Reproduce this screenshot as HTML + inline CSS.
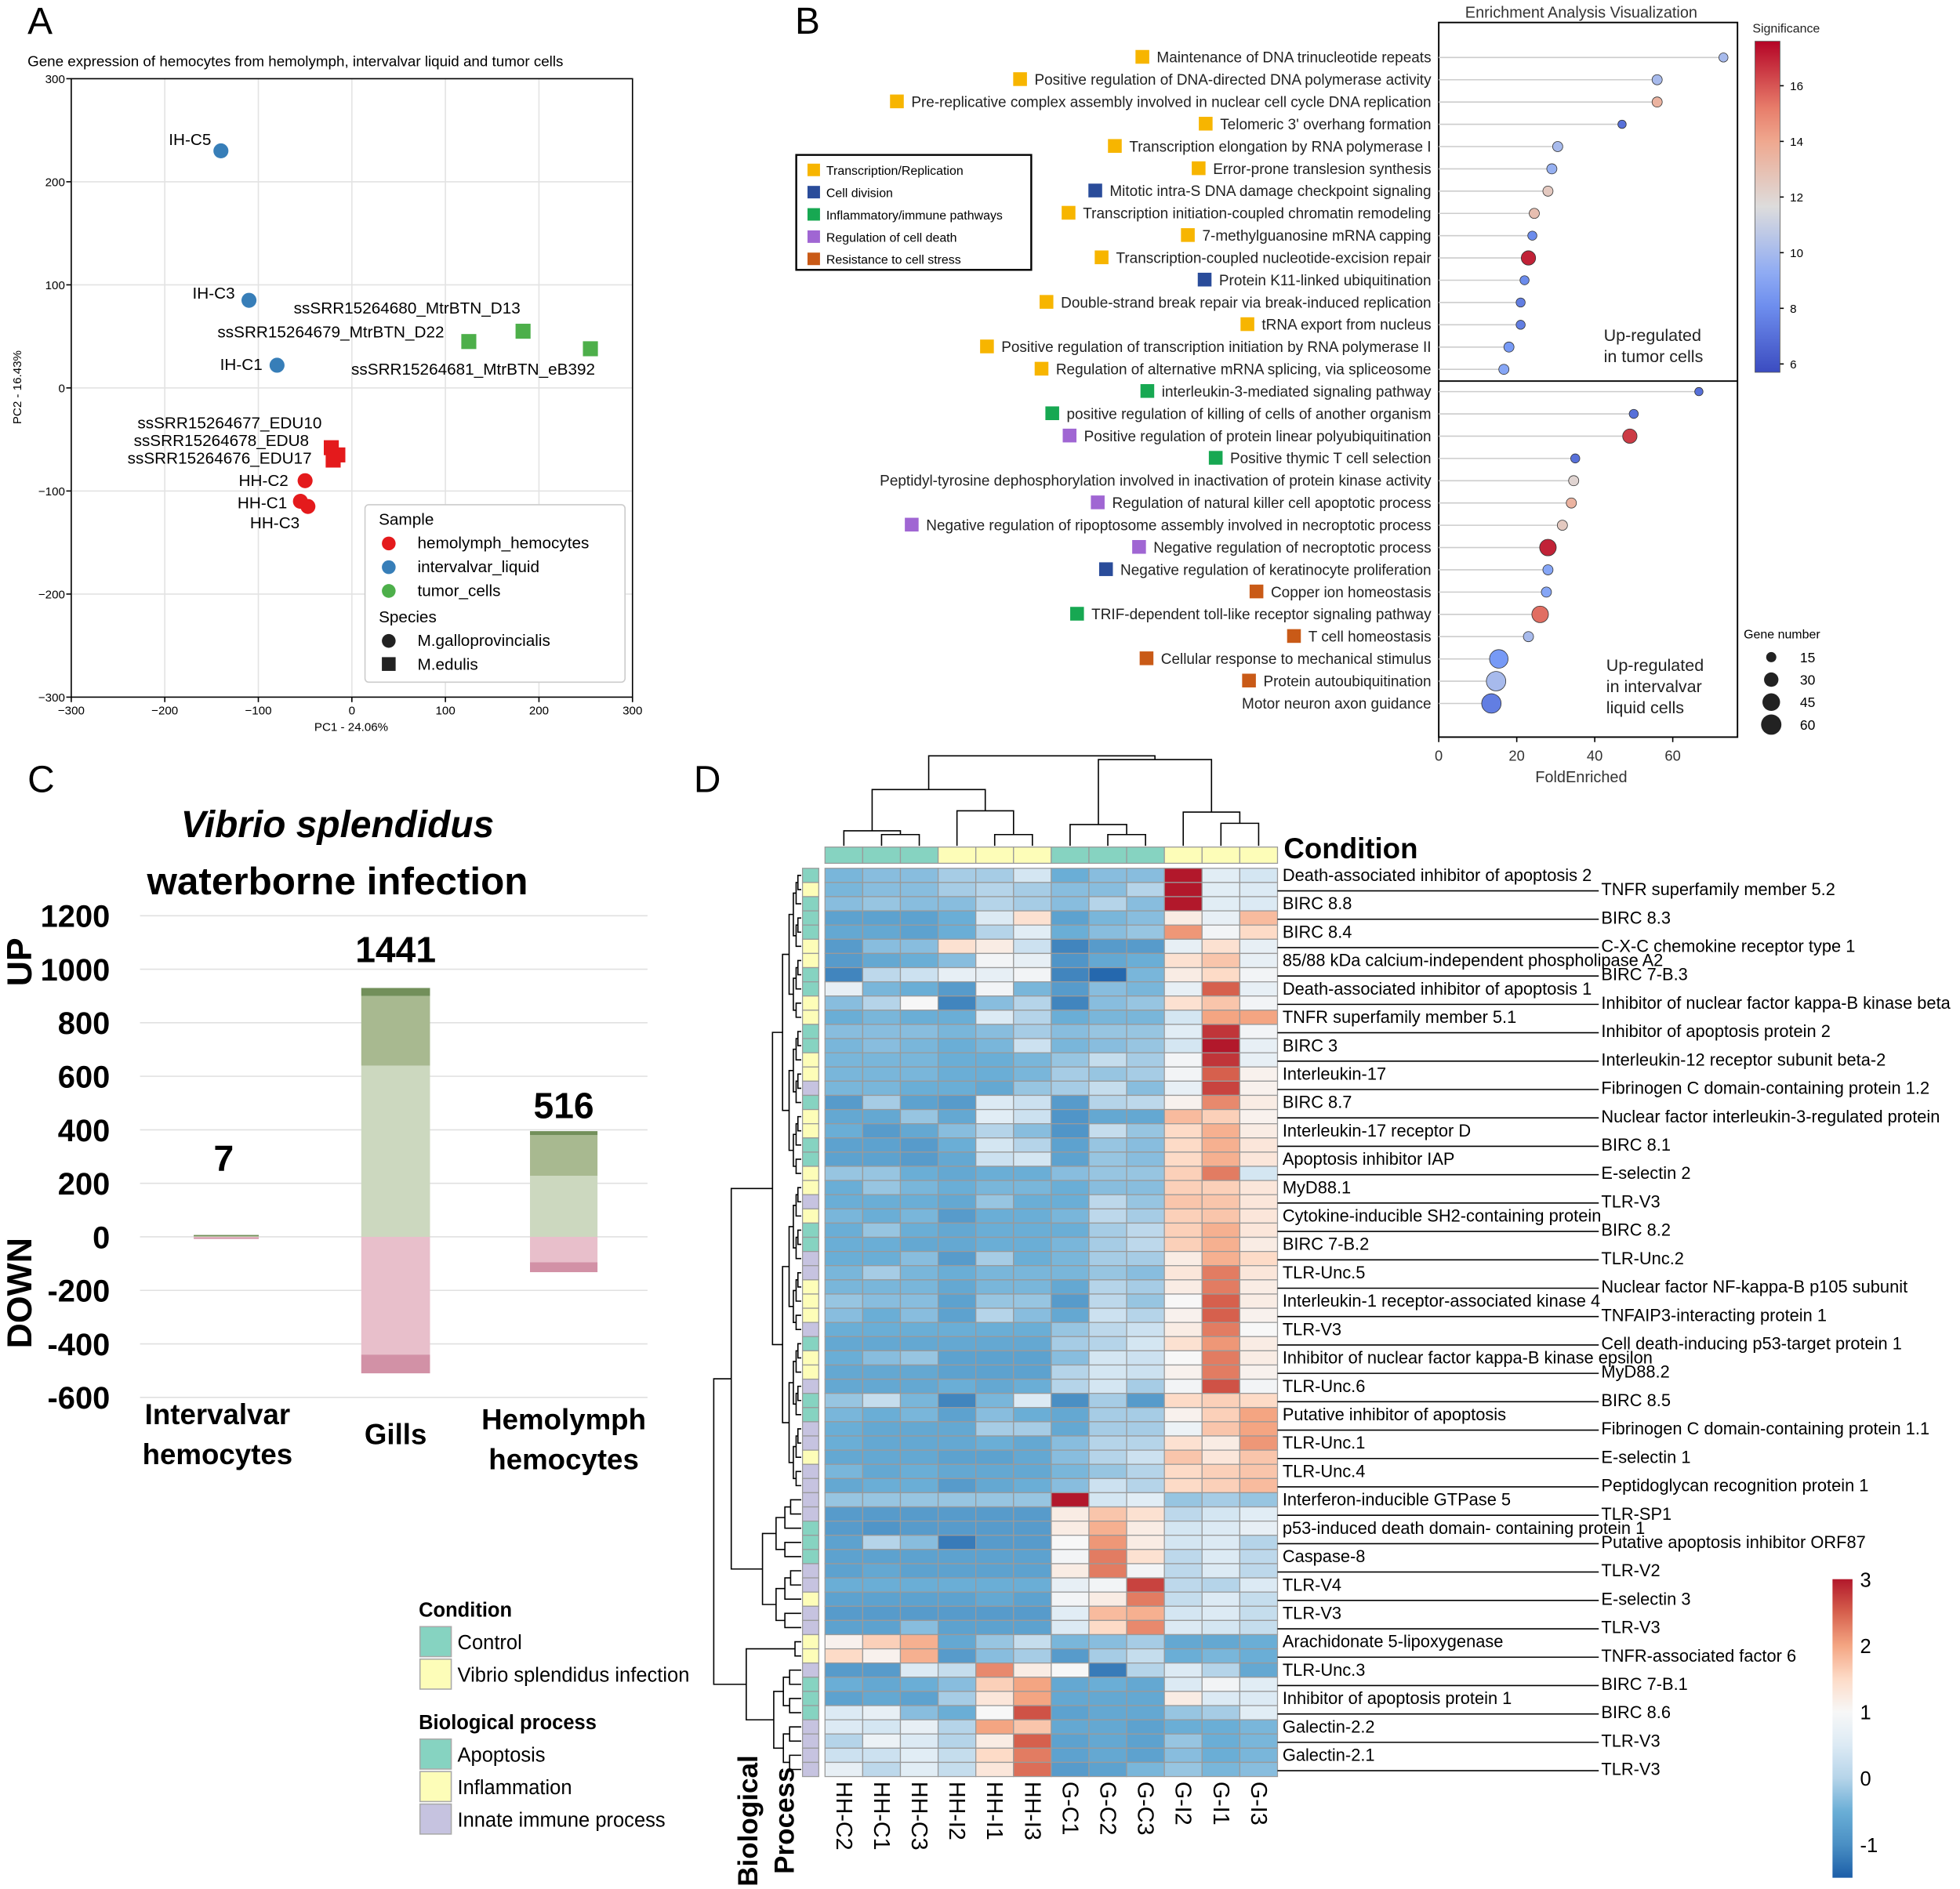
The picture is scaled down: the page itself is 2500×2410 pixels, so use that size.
<!DOCTYPE html>
<html><head><meta charset="utf-8"><style>
html,body{margin:0;padding:0;background:#fff;}
svg{display:block;font-family:"Liberation Sans",sans-serif;}
</style></head><body>
<svg id="fig" width="2500" height="2410" viewBox="0 0 1568 1512" preserveAspectRatio="none">
<g id="A"></g>
<g id="B"></g>
<g id="C"></g>
<g id="D"></g>
</svg>
<script>
// ---------- Panel A data ----------
const pcaLabels=["IH-C5","IH-C3","IH-C1","ssSRR15264680_MtrBTN_D13","ssSRR15264679_MtrBTN_D22","ssSRR15264681_MtrBTN_eB392","ssSRR15264677_EDU10","ssSRR15264678_EDU8","ssSRR15264676_EDU17","HH-C2","HH-C1","HH-C3"];
const pcaPC1=[-140,-110,-80,183,125,255,-22,-15,-20,-50,-55,-47];
const pcaPC2=[230,85,22,55,45,38,-58,-65,-70,-90,-110,-115];
const pcaGroup=["iv","iv","iv","tu","tu","tu","hh","hh","hh","hh","hh","hh"];
const pcaShape=["c","c","c","s","s","s","s","s","s","c","c","c"];
const pcaTicks=[-300,-200,-100,0,100,200,300];
// ---------- Panel B data ----------
const goTerms=["Maintenance of DNA trinucleotide repeats","Positive regulation of DNA-directed DNA polymerase activity","Pre-replicative complex assembly involved in nuclear cell cycle DNA replication","Telomeric 3' overhang formation","Transcription elongation by RNA polymerase I","Error-prone translesion synthesis","Mitotic intra-S DNA damage checkpoint signaling","Transcription initiation-coupled chromatin remodeling","7-methylguanosine mRNA capping","Transcription-coupled nucleotide-excision repair","Protein K11-linked ubiquitination","Double-strand break repair via break-induced replication","tRNA export from nucleus","Positive regulation of transcription initiation by RNA polymerase II","Regulation of alternative mRNA splicing, via spliceosome","interleukin-3-mediated signaling pathway","positive regulation of killing of cells of another organism","Positive regulation of protein linear polyubiquitination","Positive thymic T cell selection","Peptidyl-tyrosine dephosphorylation involved in inactivation of protein kinase activity","Regulation of natural killer cell apoptotic process","Negative regulation of ripoptosome assembly involved in necroptotic process","Negative regulation of necroptotic process","Negative regulation of keratinocyte proliferation","Copper ion homeostasis","TRIF-dependent toll-like receptor signaling pathway","T cell homeostasis","Cellular response to mechanical stimulus","Protein autoubiquitination","Motor neuron axon guidance"];
const goFold=[73,56,56,47,30.5,29,28,24.5,24,23,22,21,21,18,16.7,66.7,50,49,35,34.6,34,31.7,28,28,27.6,26,23,15.4,14.7,13.5];
const goSig=[10,10,13.5,7,10,9.5,12.5,13,8,17,8,7.5,7.5,8.5,9,7,7,16.5,7,12,13.5,12.5,17,9,9,15.5,10,8.5,10,7.5];
const goGenes=[12,15,15,10,15,15,15,15,12,30,12,12,12,15,15,10,12,30,12,15,15,15,40,15,15,40,15,50,55,55];
const goCat=["Y","Y","Y","Y","Y","Y","B","Y","Y","Y","B","Y","Y","Y","Y","G","G","P","G","","P","P","P","B","O","G","O","O","O",""];
const catNames=["Transcription/Replication","Cell division","Inflammatory/immune pathways","Regulation of cell death","Resistance to cell stress"];
const catKeys=["Y","B","G","P","O"];
const foldTicks=[0,20,40,60];
const sigTicks=[16,14,12,10,8,6];
const geneLegend=[15,30,45,60];
// ---------- Panel C data ----------
const tissues=["Intervalvar|hemocytes","Gills","Hemolymph|hemocytes"];
const upLight=[4,640,228];
const upMid=[2,260,152];
const upDark=[1,30,15];
const downLight=[-3,-440,-95];
const downDark=[-1,-70,-37];
const totals=["7","1441","516"];
const cTicks=[1200,1000,800,600,400,200,0,-200,-400,-600];
// ---------- Panel D data ----------
const hmCols=["HH-C2","HH-C1","HH-C3","HH-I2","HH-I1","HH-I3","G-C1","G-C2","G-C3","G-I2","G-I1","G-I3"];
const hmColCond=["c","c","c","i","i","i","c","c","c","i","i","i"];
const hmRows=["Death-associated inhibitor of apoptosis 2","TNFR superfamily member 5.2","BIRC 8.8","BIRC 8.3","BIRC 8.4","C-X-C chemokine receptor type 1","85/88 kDa calcium-independent phospholipase A2","BIRC 7-B.3","Death-associated inhibitor of apoptosis 1","Inhibitor of nuclear factor kappa-B kinase beta","TNFR superfamily member 5.1","Inhibitor of apoptosis protein 2","BIRC 3","Interleukin-12 receptor subunit beta-2","Interleukin-17","Fibrinogen C domain-containing protein 1.2","BIRC 8.7","Nuclear factor interleukin-3-regulated protein","Interleukin-17 receptor D","BIRC 8.1","Apoptosis inhibitor IAP","E-selectin 2","MyD88.1","TLR-V3","Cytokine-inducible SH2-containing protein","BIRC 8.2","BIRC 7-B.2","TLR-Unc.2","TLR-Unc.5","Nuclear factor NF-kappa-B p105 subunit","Interleukin-1 receptor-associated kinase 4","TNFAIP3-interacting protein 1","TLR-V3","Cell death-inducing p53-target protein 1","Inhibitor of nuclear factor kappa-B kinase epsilon","MyD88.2","TLR-Unc.6","BIRC 8.5","Putative inhibitor of apoptosis","Fibrinogen C domain-containing protein 1.1","TLR-Unc.1","E-selectin 1","TLR-Unc.4","Peptidoglycan recognition protein 1","Interferon-inducible GTPase 5","TLR-SP1","p53-induced death domain- containing protein 1","Putative apoptosis inhibitor ORF87","Caspase-8","TLR-V2","TLR-V4","E-selectin 3","TLR-V3","TLR-V3","Arachidonate 5-lipoxygenase","TNFR-associated factor 6","TLR-Unc.3","BIRC 7-B.1","Inhibitor of apoptosis protein 1","BIRC 8.6","Galectin-2.2","TLR-V3","Galectin-2.1","TLR-V3"];
const hmProc="tyttt yyttyyttyypt yyttyypyttppyyyp tyyptt ppyppp pttt ppy ppyy pttt pppp".replace(/ /g,"").split("");
const hmVals=[
[-0.4,-0.3,-0.3,-0.1,-0.1,0.4,-0.5,-0.3,-0.3,3,0.6,0.4],
[-0.4,-0.3,-0.3,-0.1,0,-0.1,-0.3,-0.3,0,3,0.6,0.5],
[-0.3,-0.2,-0.3,-0.3,0,-0.1,-0.3,0,-0.3,3,0.6,0.5],
[-0.7,-0.7,-0.7,-0.5,0.5,1.4,-0.7,-0.4,-0.3,1.2,0.7,1.8],
[-0.6,-0.6,-0.7,-0.5,0,0.6,-0.5,-0.3,-0.2,2.1,0.9,1.5],
[-0.8,-0.3,-0.3,1.4,1.2,0.3,-1.1,-0.8,-0.8,0.7,1.4,0.7],
[-0.8,-0.6,-0.5,-0.3,0.9,0.7,-0.9,-0.6,-0.5,1.4,1.7,0.7],
[-1.1,0.1,0.3,0.7,0.7,0.9,-1.1,-1.4,-0.4,1.2,1.5,0.9],
[0.7,-0.4,-0.5,-0.8,0.9,-0.4,-0.8,-0.3,-0.4,0.7,2.5,0.7],
[-0.3,0,1,-1.1,-0.3,0,-1.1,-0.3,-0.2,1.4,1.7,0.9],
[-0.5,-0.4,-0.5,-0.5,0.5,0,-0.5,-0.4,-0.4,0.4,2.0,2.0],
[-0.3,-0.3,-0.3,-0.4,-0.3,-0.1,-0.3,-0.2,-0.2,0.6,2.8,0.9],
[-0.4,-0.3,-0.4,-0.5,-0.4,0.3,-0.4,-0.3,-0.2,0.4,3,0.7],
[-0.4,-0.4,-0.4,-0.5,-0.5,-0.4,-0.2,0.2,-0.1,0.9,2.8,0.7],
[-0.4,-0.4,-0.4,-0.5,-0.5,-0.4,-0.1,-0.2,-0.1,0.9,2.5,1.1],
[-0.4,-0.4,-0.5,-0.5,-0.6,-0.2,-0.1,0.2,-0.3,0.7,2.7,1.1],
[-0.8,-0.1,-0.7,-0.8,0.5,0.3,-0.8,0,0.1,1.1,2.2,1.2],
[-0.6,-0.6,-0.2,-0.6,0.6,0.3,-0.9,-0.6,-0.6,1.8,1.6,1.1],
[-0.5,-0.8,-0.6,-0.3,0,-0.3,-0.9,0.2,-0.2,1.5,1.9,1.2],
[-0.7,-0.7,-0.8,-0.5,0.4,0,-0.7,-0.2,-0.3,1.5,1.9,1.3],
[-0.7,-0.7,-0.8,-0.6,0.3,0.4,-0.7,-0.2,-0.3,1.5,1.9,1.3],
[-0.2,-0.2,-0.5,-0.6,-0.5,-0.5,-0.3,-0.2,-0.2,1.6,2.3,0.4],
[-0.5,-0.2,-0.4,-0.5,-0.4,-0.4,-0.5,-0.3,-0.3,1.6,1.6,1.3],
[-0.5,-0.5,-0.5,-0.6,-0.2,-0.5,-0.5,0.1,-0.2,1.7,1.7,1.3],
[-0.4,-0.5,-0.4,-0.8,-0.5,-0.5,-0.4,0.1,-0.1,1.6,1.7,1.3],
[-0.5,-0.2,-0.5,-0.6,-0.5,-0.5,-0.5,-0.1,0.1,1.6,1.9,1.3],
[-0.5,-0.5,-0.6,-0.6,-0.5,-0.5,-0.4,-0.1,0.1,1.6,1.9,1.2],
[-0.5,-0.5,-0.3,-0.8,-0.1,-0.5,-0.4,-0.1,-0.1,1.2,1.9,1.5],
[-0.4,-0.1,-0.4,-0.5,-0.4,-0.4,-0.4,-0.2,-0.3,1.3,2.3,1.3],
[-0.4,-0.4,-0.4,-0.6,-0.4,-0.4,-0.6,0,-0.1,1.2,2.3,1.2],
[-0.2,-0.3,-0.3,-0.7,-0.2,-0.2,-0.8,0.1,-0.2,1,2.5,1.2],
[-0.3,-0.5,-0.3,-0.7,0,-0.3,-0.6,0.3,0,1.1,2.5,1.1],
[-0.5,-0.5,-0.5,-0.5,-0.5,-0.5,-0.2,0.1,0.3,1.2,2.3,1],
[-0.6,-0.6,-0.6,-0.6,-0.6,-0.6,-0.1,0,0.4,1.4,2.1,1.2],
[-0.5,-0.3,-0.2,-0.7,-0.7,-0.7,-0.3,0.4,0.3,1,2.3,1.2],
[-0.6,-0.6,-0.6,-0.7,-0.7,-0.7,0,0.4,0.3,1.1,2.3,1.1],
[-0.6,-0.6,-0.6,-0.5,-0.6,-0.5,0,0.4,-0.1,0.9,2.6,0.9],
[-0.2,0.2,-0.4,-1.1,-0.4,0.5,-1,-0.1,-0.8,1.5,1.6,1.5],
[-0.4,-0.5,-0.4,-0.7,-0.3,-0.5,-0.6,-0.1,-0.1,1.1,1.6,2],
[-0.5,-0.6,-0.6,-0.6,-0.1,-0.1,-0.6,-0.1,-0.1,0.8,1.7,2],
[-0.5,-0.6,-0.6,-0.6,-0.5,-0.6,-0.3,0,0,1.4,1.2,2.1],
[-0.6,-0.6,-0.6,-0.7,-0.7,-0.6,-0.3,0,0.3,1.7,1.3,1.7],
[-0.4,-0.6,-0.5,-0.6,-0.6,-0.6,-0.4,-0.2,0,1.5,1.6,1.7],
[-0.6,-0.5,-0.5,-0.8,-0.6,-0.5,-0.3,0.3,0,1.5,1.6,1.8],
[-0.2,-0.2,-0.2,-0.2,-0.2,-0.2,3,0.4,0.6,-0.2,-0.1,-0.2],
[-0.8,-0.8,-0.8,-0.8,-0.8,-0.8,1.2,1.7,1.4,0.1,0.4,0.6],
[-0.8,-0.9,-0.8,-0.8,-0.8,-0.8,1.2,1.9,1.2,0.4,0.5,0.7],
[-0.7,0,-0.3,-1.2,-0.8,-0.8,1,2.1,1.2,0.4,0.5,0],
[-0.7,-0.7,-0.7,-0.7,-0.7,-0.7,0.9,2.3,1.4,0.1,0.5,0.1],
[-0.7,-0.6,-0.7,-0.7,-0.7,-0.7,1.2,2.3,0.9,0.1,0.5,0.1],
[-0.5,-0.5,-0.5,-0.5,-0.5,-0.5,0.7,0.9,2.7,0.1,0,0.5],
[-0.7,-0.7,-0.7,-0.7,-0.6,-0.7,0.9,1.2,2.3,0.2,0.5,0.2],
[-0.8,-0.8,-0.8,-0.8,-0.8,-0.8,0.6,1.8,1.9,0.4,0.5,0.2],
[-0.7,-0.7,-0.3,-0.7,-0.7,-0.7,0.5,1.5,2.2,0.5,0.4,0.2],
[1.1,1.6,1.9,-0.6,-0.2,0.2,-0.4,-0.3,-0.1,-0.6,-0.6,-0.5],
[1.5,1.1,1.9,-0.8,-0.3,-0.1,-0.8,-0.1,0.2,-0.5,-0.4,-0.5],
[-0.8,-0.8,0.5,0.2,2.2,1.2,1,-1.2,0,0.5,0,-0.6],
[-0.5,-0.6,-0.5,-0.3,1.6,2,-0.6,-0.5,-0.6,0.5,0.9,0.6],
[-0.7,-0.6,-0.7,-0.1,1.3,2,-0.6,-0.6,-0.6,1.2,0.5,0.5],
[0.5,0.7,-0.3,-0.5,1,2.6,-0.7,-0.6,-0.6,-0.2,-0.1,0.6],
[0.5,0.4,0.7,0,2,1.7,-0.6,-0.6,-0.7,-0.5,-0.5,-0.4],
[0,0.8,0.5,0,1.2,2.5,-0.7,-0.6,-0.7,-0.2,-0.5,-0.4],
[0.3,0.3,0.6,0.2,1.5,2.3,-0.7,-0.6,-0.7,-0.3,-0.5,-0.4],
[0.7,0.1,0.6,0.2,1.3,2.4,-0.8,-0.7,-0.4,-0.2,-0.4,-0.3]];
const hmTicks=[3,2,1,0,-1];

// ---------- helpers ----------
const NS="http://www.w3.org/2000/svg";
function mk(parent,tag,attrs,text){const e=document.createElementNS(NS,tag);for(const k in attrs)e.setAttribute(k,attrs[k]);if(text!==undefined)e.textContent=text;parent.appendChild(e);return e;}
function hex(c){return [parseInt(c.slice(1,3),16),parseInt(c.slice(3,5),16),parseInt(c.slice(5,7),16)];}
function interp(stops,t){t=Math.max(0,Math.min(1,t));const n=stops.length-1;const i=Math.min(n-1,Math.floor(t*n));const f=t*n-i;const a=hex(stops[i]),b=hex(stops[i+1]);return "rgb("+a.map((v,k)=>Math.round(v+(b[k]-v)*f)).join(",")+")";}
const A=document.getElementById('A'),B=document.getElementById('B'),C=document.getElementById('C'),D=document.getElementById('D');
function letter(g,ch,x,y,nm){const t=mk(g,'text',{x:x,y:y,'font-size':30},ch);

}
letter(A,'A',22,27,'panel-letter-a');letter(B,'B',636,27,'panel-letter-b');letter(C,'C',22,634,'panel-letter-c');letter(D,'D',555,634,'panel-letter-d');

// ---------- Panel A ----------
(function(){
const x0=57,x1=506,y0=63,y1=558;
const xs=v=>x0+(v+300)/600*(x1-x0), ys=v=>y1-(v+300)/600*(y1-y0);
let t=mk(A,'text',{x:22,y:53,'font-size':11.8},'Gene expression of hemocytes from hemolymph, intervalvar liquid and tumor cells');


pcaTicks.forEach(v=>{
 const gx=mk(A,'line',{x1:xs(v),x2:xs(v),y1:y0,y2:y1,stroke:'#e3e3e3','stroke-width':1});
 
 
 const gy=mk(A,'line',{x1:x0,x2:x1,y1:ys(v),y2:ys(v),stroke:'#e3e3e3','stroke-width':1});
 
 
 const tx=mk(A,'text',{x:xs(v),y:y1+14,'font-size':9.5,'text-anchor':'middle'},v===0?'0':(v<0?'\u2212'+(-v):v));
 
 
 const ty=mk(A,'text',{x:x0-5,y:ys(v)+3.5,'font-size':9.5,'text-anchor':'end'},v===0?'0':(v<0?'\u2212'+(-v):v));
 
 
 mk(A,'line',{x1:xs(v),x2:xs(v),y1:y1,y2:y1+4,stroke:'#000'});
 mk(A,'line',{x1:x0-4,x2:x0,y1:ys(v),y2:ys(v),stroke:'#000'});
});
const fr=mk(A,'rect',{x:x0,y:y0,width:x1-x0,height:y1-y0,fill:'none',stroke:'#000','stroke-width':1});


t=mk(A,'text',{x:281,y:585,'font-size':9.5,'text-anchor':'middle'},'PC1 - 24.06%');


t=mk(A,'text',{x:0,y:0,'font-size':9.5,'text-anchor':'middle',transform:'translate(17,310) rotate(-90)'},'PC2 - 16.43%');


const col={hh:'#e41a1c',iv:'#377eb8',tu:'#4daf4a'};
const lab=[[135,116],[154,239],[176,296],[235,251],[174,270],[281,300],[110,343],[107,357],[102,371],[191,389],[190,407],[200,423]];
pcaLabels.forEach((l,i)=>{
 const cx=xs(pcaPC1[i]),cy=ys(pcaPC2[i]);
 let m;
 if(pcaShape[i]==='c')m=mk(A,'circle',{cx:cx,cy:cy,r:6,fill:col[pcaGroup[i]]});
 else m=mk(A,'rect',{x:cx-6,y:cy-6,width:12,height:12,fill:col[pcaGroup[i]]});
 
 
 const tl=mk(A,'text',{x:lab[i][0],y:lab[i][1],'font-size':13},l);
 
 
});
const lg=mk(A,'g',{});


mk(lg,'rect',{x:292,y:404,width:208,height:142,fill:'#fff',stroke:'#ccc',rx:3});
mk(lg,'text',{x:303,y:420,'font-size':13},'Sample');
[['hemolymph_hemocytes','hh'],['intervalvar_liquid','iv'],['tumor_cells','tu']].forEach((e,k)=>{
 const c=mk(lg,'circle',{cx:311,cy:435+k*19,r:5.5,fill:col[e[1]]});
 
 
 mk(lg,'text',{x:334,y:439+k*19,'font-size':13},e[0]);});
mk(lg,'text',{x:303,y:498,'font-size':13},'Species');
mk(lg,'circle',{cx:311,cy:513,r:5.5,fill:'#222'});mk(lg,'text',{x:334,y:517,'font-size':13},'M.galloprovincialis');
mk(lg,'rect',{x:305.5,y:526,width:11,height:11,fill:'#222'});mk(lg,'text',{x:334,y:536,'font-size':13},'M.edulis');
})();

// ---------- Panel B ----------
(function(){
const ax0=1151,ax1=1390,top=18,bot=590;
const xs=v=>ax0+v*3.12;
const ys=i=>46+i*17.83;
const sigStops=['#3b4cc0','#7b9ff9','#dddcdc','#f49a7b','#b40426'];
const sc=v=>interp(sigStops,(v-5.7)/(17.6-5.7));
const catCol={Y:'#f7b500',B:'#2a4c9a',G:'#17a852',P:'#a066d3',O:'#c95a17'};
let t=mk(B,'text',{x:1265,y:14,'font-size':12.5,'text-anchor':'middle',fill:'#333'},'Enrichment Analysis Visualization');


const fr=mk(B,'rect',{x:ax0,y:top,width:ax1-ax0,height:bot-top,fill:'none',stroke:'#000','stroke-width':1.2});


const sep=mk(B,'line',{x1:ax0,x2:ax1,y1:305,y2:305,stroke:'#000','stroke-width':1.2});


goTerms.forEach((term,i)=>{
 const y=ys(i);
 const ln=mk(B,'line',{x1:ax0,x2:xs(goFold[i]),y1:y,y2:y,stroke:'#ccc','stroke-width':1});
 
 
 const tx=mk(B,'text',{x:1145,y:y+4,'font-size':11.9,'text-anchor':'end',fill:'#222'},term);
 
 
 if(goCat[i]){
  let w=tx.getComputedTextLength();
  const sq=mk(B,'rect',{x:1145-w-17,y:y-6,width:11,height:11,fill:catCol[goCat[i]]});
  
  
 }
 const dot=mk(B,'circle',{cx:xs(goFold[i]),cy:y,r:Math.sqrt(goGenes[i])*1.05,fill:sc(goSig[i]),stroke:'#333','stroke-width':0.5});
 
 
});
foldTicks.forEach(v=>{
 mk(B,'line',{x1:xs(v),x2:xs(v),y1:bot,y2:bot+4,stroke:'#000'});
 const tl=mk(B,'text',{x:xs(v),y:bot+19,'font-size':11.5,'text-anchor':'middle',fill:'#333'},v);
 
 
});
t=mk(B,'text',{x:1265,y:626,'font-size':12.5,'text-anchor':'middle',fill:'#333'},'FoldEnriched');


[['Up-regulated',1283,273],['in tumor cells',1283,290],['Up-regulated',1285,537],['in intervalvar',1285,554],['liquid cells',1285,571]].forEach(a=>{
 const g=mk(B,'text',{x:a[1],y:a[2],'font-size':13.5,fill:'#222'},a[0]);
 
 });
const lg=mk(B,'g',{});


mk(lg,'rect',{x:637,y:124,width:188,height:92,fill:'#fff',stroke:'#000','stroke-width':1.5});
catNames.forEach((n,k)=>{mk(lg,'rect',{x:646,y:131+k*17.8,width:10,height:10,fill:catCol[catKeys[k]]});
 mk(lg,'text',{x:661,y:140+k*17.8,'font-size':10},n);});
const defs=mk(B,'defs',{});
const gr=mk(defs,'linearGradient',{id:'sigGrad',x1:0,y1:1,x2:0,y2:0});
for(let k=0;k<=10;k++)mk(gr,'stop',{offset:k/10,'stop-color':interp(sigStops,k/10)});
const cb=mk(B,'rect',{x:1404,y:33,width:20,height:265,fill:'url(#sigGrad)',stroke:'#555','stroke-width':0.5});


t=mk(B,'text',{x:1402,y:26,'font-size':10,fill:'#222'},'Significance');


sigTicks.forEach(v=>{const y=298-(v-5.7)/(17.6-5.7)*265;
 mk(B,'line',{x1:1424,x2:1427,y1:y,y2:y,stroke:'#000'});
 const tl=mk(B,'text',{x:1432,y:y+3.5,'font-size':9.5},v);
 
 });
t=mk(B,'text',{x:1395,y:511,'font-size':10},'Gene number');


geneLegend.forEach((n,k)=>{const c=mk(B,'circle',{cx:1417,cy:526+k*18,r:Math.sqrt(n)*1.05,fill:'#222'});
 
 
 mk(B,'text',{x:1440,y:530+k*18,'font-size':11},n);});
})();

// ---------- Panel C ----------
(function(){
const ys=v=>990-v*0.2142, bx=[[155,207],[289,344],[424,478]], ly0=[937,770,895];
let t=mk(C,'text',{x:270,y:670,'font-size':30,'font-weight':'bold','font-style':'italic','text-anchor':'middle'},'Vibrio splendidus');


t=mk(C,'text',{x:270,y:716,'font-size':31,'font-weight':'bold','text-anchor':'middle'},'waterborne infection');


cTicks.forEach(v=>{
 const g=mk(C,'line',{x1:112,x2:518,y1:ys(v),y2:ys(v),stroke:'#e0e0e0','stroke-width':1});
 
 
 const tl=mk(C,'text',{x:88,y:ys(v)+9,'font-size':25,'font-weight':'bold','text-anchor':'end'},v);
 
 
});
t=mk(C,'text',{x:0,y:0,'font-size':28,'font-weight':'bold','text-anchor':'middle',transform:'translate(25,770) rotate(-90)'},'UP');


t=mk(C,'text',{x:0,y:0,'font-size':28,'font-weight':'bold','text-anchor':'middle',transform:'translate(25,1035) rotate(-90)'},'DOWN');


tissues.forEach((tn,i)=>{
 const [xa,xb]=bx[i];
 const segs=[[0,upLight[i],'#ccd8bf'],[upLight[i],upLight[i]+upMid[i],'#a8b990'],[upLight[i]+upMid[i],upLight[i]+upMid[i]+upDark[i],'#728f5a'],[0,downLight[i],'#e8bfcb'],[downLight[i],downLight[i]+downDark[i],'#d291a6']];
 segs.forEach(s=>{const r=mk(C,'rect',{x:xa,y:ys(Math.max(s[0],s[1])),width:xb-xa,height:Math.max(1,Math.abs(s[1]-s[0])*0.2142),fill:s[2]});
  
  });
 const tl=mk(C,'text',{x:(i===0?179:(xa+xb)/2),y:ly0[i],'font-size':29,'font-weight':'bold','text-anchor':'middle'},totals[i]);
 
 
 const parts=tn.split('|');
 const ly=parts.length>1?(i===0?1140:1144):1156;
 parts.forEach((p,k)=>{const c=mk(C,'text',{x:(i===0?174:(i===2?451:(xa+xb)/2)),y:ly+k*32,'font-size':23,'font-weight':'bold','text-anchor':'middle'},p);
  
  });
});
const lg=mk(C,'g',{});


mk(lg,'text',{x:335,y:1294,'font-size':16,'font-weight':'bold'},'Condition');
mk(lg,'rect',{x:336,y:1302,width:25,height:24,fill:'#86d3c1',stroke:'#aaa'});mk(lg,'text',{x:366,y:1320,'font-size':16},'Control');
mk(lg,'rect',{x:336,y:1328,width:25,height:24,fill:'#fdfdb8',stroke:'#aaa'});mk(lg,'text',{x:366,y:1346,'font-size':16},'Vibrio splendidus infection');
mk(lg,'text',{x:335,y:1384,'font-size':16,'font-weight':'bold'},'Biological process');
[['Apoptosis','#86d3c1'],['Inflammation','#fdfdb8'],['Innate immune process','#c6c3e0']].forEach((e,k)=>{
 mk(lg,'rect',{x:336,y:1392+k*26,width:25,height:24,fill:e[1],stroke:'#aaa'});mk(lg,'text',{x:366,y:1410+k*26,'font-size':16},e[0]);});
})();

// ---------- Panel D ----------
(function(){
const hx0=660,hx1=1022,hy0=695,hy1=1422;
const cw=(hx1-hx0)/hmCols.length, rh=(hy1-hy0)/hmRows.length;
const stops=['#1c5ea8','#4a8fc4','#6aaed6','#b5d4e9','#dceaf4','#f7f7f7','#fddbc7','#f4a582','#d6604d','#b2182b'];
const cs=v=>interp(stops,(v+1.5)/4.5);
const annC={c:'#86d3c1',i:'#fdfdb8'}, annP={t:'#86d3c1',y:'#fdfdb8',p:'#c6c3e0'};
hmVals.forEach((row,r)=>row.forEach((v,c)=>{
 const cell=mk(D,'rect',{x:hx0+c*cw,y:hy0+r*rh,width:cw,height:rh,fill:cs(v),stroke:'#9a9a9a','stroke-width':0.8});
 
 
}));
hmColCond.forEach((k,c)=>{const a=mk(D,'rect',{x:hx0+c*cw,y:678,width:cw,height:13,fill:annC[k],stroke:'#9a9a9a','stroke-width':0.8});
 
 });
hmRows.forEach((n,r)=>{const a=mk(D,'rect',{x:642,y:hy0+r*rh,width:13,height:rh,fill:annP[hmProc[r]]||'#c6c3e0',stroke:'#9a9a9a','stroke-width':0.8});
 
 });
hmRows.forEach((n,r)=>{
 const yc=hy0+(r+0.5)*rh;
 const left=r%2===0, lx=left?1026:1281;
 const tl=mk(D,'text',{x:lx,y:yc+4.5,'font-size':13.7},n);
 
 
 if(!left){
  const ul=mk(D,'line',{x1:hx1,x2:1279,y1:yc+1,y2:yc+1,stroke:'#000','stroke-width':1});
  
  
 }
});
let t=mk(D,'text',{x:1027,y:687,'font-size':23,'font-weight':'bold'},'Condition');


hmCols.forEach((n,c)=>{const tl=mk(D,'text',{x:0,y:0,'font-size':18,transform:'translate('+(hx0+(c+0.5)*cw-6)+',1426) rotate(90)'},n);
 
 });
t=mk(D,'text',{x:0,y:0,'font-size':22,'font-weight':'bold',transform:'translate(606,1510) rotate(-90)'},'Biological');


t=mk(D,'text',{x:0,y:0,'font-size':22,'font-weight':'bold',transform:'translate(635,1500) rotate(-90)'},'Process');


const cx=i=>hx0+(i+0.5)*cw;
const dg=mk(D,'g',{stroke:'#000','stroke-width':1,fill:'none'});


function U(xa,ya,xb,yb,h){mk(dg,'path',{d:`M${xa},${ya}V${h}H${xb}V${yb}`});}
U(cx(1),677,cx(2),677,668);U(cx(0),677,(cx(1)+cx(2))/2,668,665);
U(cx(4),677,cx(5),677,668);U(cx(3),677,(cx(4)+cx(5))/2,668,649);
const l1=(cx(0)+(cx(1)+cx(2))/2)/2,l2=(cx(3)+(cx(4)+cx(5))/2)/2;U(l1,665,l2,649,632);
U(cx(7),677,cx(8),677,668);U(cx(6),677,(cx(7)+cx(8))/2,668,660);
U(cx(10),677,cx(11),677,659);U(cx(9),677,(cx(10)+cx(11))/2,659,650);
const r1=(cx(6)+(cx(7)+cx(8))/2)/2,r2=(cx(9)+(cx(10)+cx(11))/2)/2;U(r1,660,r2,650,608);
U((l1+l2)/2,632,(r1+r2)/2,608,605);
const rg=mk(D,'g',{stroke:'#000','stroke-width':1,fill:'none'});


const ry=i=>hy0+(i+0.5)*rh;
function V(ya,xa,yb,xb,x){mk(rg,'path',{d:`M${xa},${ya}H${x}V${yb}H${xb}`});}
function sub(lo,hi,x){
 if(lo===hi)return ry(lo);
 const mid=Math.floor((lo+hi)/2);
 const cxn=x+(641-x)*0.35;
 const a=sub(lo,mid,lo===mid?641:cxn),b=sub(mid+1,hi,mid+1===hi?641:cxn);
 V(a,lo===mid?641:cxn,b,mid+1===hi?641:cxn,x);
 return (a+b)/2;}
const yA=sub(0,43,618),yB=sub(44,53,610);
V(yA,618,yB,610,585);
const yC1=sub(54,55,636),yC2=sub(56,63,619);
V(yC1,636,yC2,619,597);
V((yA+yB)/2,585,(yC1+yC2)/2,597,571);
const defs=mk(D,'defs',{});
const gr=mk(defs,'linearGradient',{id:'hmGrad',x1:0,y1:1,x2:0,y2:0});
for(let k=0;k<=18;k++)mk(gr,'stop',{offset:k/18,'stop-color':cs(-1.5+4.5*k/18)});
const cb=mk(D,'rect',{x:1466,y:1264,width:16,height:239,fill:'url(#hmGrad)'});


hmTicks.forEach(v=>{const y=1503-(v+1.5)/4.5*239;
 const tl=mk(D,'text',{x:1488,y:y+6,'font-size':16},v);
 
 });
})();
</script>
</body></html>
